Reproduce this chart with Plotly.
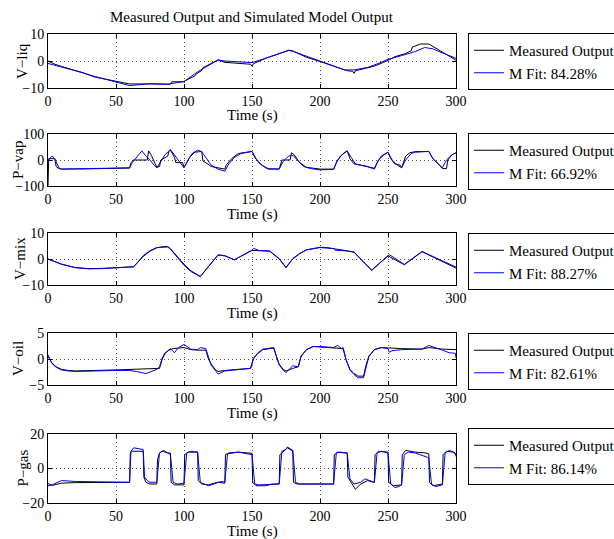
import plotly.graph_objects as go

W, H = 614, 539
FONT = "Liberation Serif"

# ---- V-liq ----
t_liq_meas = [0, 5, 10, 18, 19, 25, 33, 34, 40, 50, 58, 60, 75, 90, 91, 100, 101, 108, 109, 113, 114,
              120, 125, 130, 140, 149, 150, 151, 160, 170, 177, 180, 189, 190, 200, 210, 220, 224, 225,
              226, 235, 240, 250, 255, 262, 267, 268, 274, 280, 285, 291, 292, 298, 300]
v_liq_meas = [0, -1.2, -2, -3, -3.4, -4.2, -5.5, -5.9, -6.5, -7.6, -8.3, -8.5, -8.5, -8.6, -7.7, -7.7,
              -7.3, -5.5, -4.8, -3.5, -2.5, -0.8, 0.4, -0.5, -0.8, -1.2, -1.9, -1.0, 1.0, 2.7, 3.9, 3.7,
              1.8, 1.4, -0.2, -2.0, -3.6, -3.8, -4.6, -3.6, -2.4, -1.9, 0.2, 1.6, 2.6, 3.8, 5.2, 6.3,
              6.3, 4.8, 3.0, 2.6, 1.0, 0.3]
t_liq_model = [0, 10, 20, 35, 50, 60, 75, 88, 95, 100, 110, 120, 125, 130, 150, 160, 170, 177, 180,
               190, 200, 210, 218, 225, 235, 245, 250, 260, 270, 277, 283, 290, 300]
v_liq_model = [-0.9, -2.2, -3.6, -5.8, -7.8, -9.1, -8.4, -8.6, -8.0, -7.6, -4.0, -1.0, 0.4, 0.0, -0.6,
               1.0, 2.8, 4.0, 3.6, 1.8, -0.2, -2.0, -3.3, -3.3, -2.4, -0.5, 0.6, 2.0, 3.5, 5.0, 4.5,
               3.0, 1.0]

# ---- P-vap ----
t_vap_meas = [0, 0.5, 5, 6, 8, 10, 30, 60, 61, 63, 73, 74, 76, 80, 82, 83, 88, 89, 90, 93, 94, 99,
              100, 101, 104, 108, 113, 114, 116, 120, 125, 130, 131, 135, 140, 150, 152, 155, 160, 162,
              170, 172, 178, 179, 181, 185, 190, 200, 210, 212, 215, 219, 220, 222, 225, 230, 240, 242,
              245, 250, 252, 255, 259, 260, 261, 263, 266, 270, 280, 283, 287, 290, 293, 294, 297, 300]
v_vap_meas = [-100, 5, 5, -25, -33, -35, -34, -31, -10, 0, 0, 35, 18, -28, -25, 0, 15, 35, 38, 10,
              -10, -10, -28, -20, 10, 30, 33, -5, -10, -25, -30, -35, -20, 5, 25, 33, 10, -10, -30,
              -35, -35, 0, 0, 28, 20, -10, -28, -35, -35, -10, 15, 33, 35, 5, -15, -20, -32, -10, 15,
              30, 5, -15, -20, -30, -15, 15, 28, 32, 33, 5, -15, -33, -33, 0, 20, 28]
t_vap_model = [0, 1, 3, 5, 8, 10, 30, 60, 62, 65, 69, 72, 75, 78, 80, 83, 86, 90, 93, 96, 100, 103,
               106, 110, 113, 116, 120, 125, 130, 133, 137, 142, 150, 153, 157, 162, 170, 173, 177,
               180, 184, 188, 193, 200, 210, 213, 217, 220, 223, 226, 230, 235, 240, 243, 247, 250,
               253, 257, 260, 263, 267, 270, 280, 283, 287, 290, 293, 297, 300]
v_vap_model = [-10, 5, 15, 5, -30, -35, -33, -30, -10, 10, 35, 15, 0, -20, -30, -5, 20, 40, 18, -5,
               -30, 0, 25, 38, 32, 10, -20, -35, -43, -15, 10, 25, 33, 5, -20, -33, -35, -5, 15, 18,
               -5, -25, -33, -38, -36, 0, 25, 35, 10, -15, -20, -25, -35, 0, 20, 30, 0, -20, -30, 0,
               25, 30, 33, 5, -15, -30, 0, 20, 28]

# ---- V-mix ----
t_mix_meas = [0, 10, 20, 30, 40, 50, 60, 63, 70, 75, 80, 85, 88, 90, 95, 100, 105, 110, 112, 125,
              130, 137, 150, 155, 163, 170, 175, 180, 185, 190, 200, 205, 210, 215, 220, 225, 238,
              250, 262, 275, 300]
v_mix_meas = [0, -2, -3.3, -3.7, -3.6, -3.4, -3.2, -3, 1, 3, 4.3, 4.8, 4.8, 4, 1, -2, -4.5, -6.3,
              -6.7, 1.5, 1.2, -0.3, 3.3, 3.2, 3, 0, -3.2, 0, 2, 3.5, 4.5, 4.4, 4, 3.4, 3, 2.7, -4.3,
              1.2, -2.2, 2.8, -3.5]
t_mix_model = [0, 10, 20, 30, 40, 50, 60, 63, 70, 75, 80, 85, 88, 90, 95, 100, 105, 110, 112, 125,
               130, 137, 150, 151, 155, 163, 170, 175, 180, 185, 190, 200, 205, 210, 211, 215, 220,
               225, 238, 250, 251, 253, 262, 275, 300]
v_mix_model = [0, -2, -3.3, -3.8, -3.7, -3.4, -3.2, -3, 1.3, 3.2, 4.4, 4.7, 4.6, 3.8, 0.6, -2.4,
               -4.8, -6.4, -6.8, 1.6, 1.3, -0.3, 3.4, 4.1, 3.3, 3.1, 0.2, -3.4, 0.2, 2.1, 3.5, 4.4,
               4.3, 4.0, 3.4, 3.3, 3.1, 2.6, -4.4, 1.3, 1.6, 1.0, -2.1, 2.9, -3.1]

# ---- V-oil ----
t_oil_meas = [0, 3, 6, 10, 15, 20, 50, 82, 84, 86, 88, 92, 100, 105, 110, 116, 118, 120, 123, 125,
              130, 140, 149, 151, 154, 158, 165, 166, 168, 170, 173, 175, 180, 184, 186, 190, 195,
              200, 210, 217, 219, 222, 225, 228, 232, 234, 236, 240, 245, 250, 260, 275, 280, 290, 300]
v_oil_meas = [0.5, -0.8, -1.5, -2, -2.2, -2.3, -2.1, -1.8, 0, 1, 1.6, 2.0, 2.2, 1.8, 1.7, 1.7, 0,
              -1, -2, -2.4, -2.2, -2, -1.8, 0, 1, 1.8, 2.0, 2.1, 0.5, -1, -2, -2.3, -1.8, -1.5, 0.5,
              1.8, 2.4, 2.3, 2.1, 2.0, 0, -2, -2.8, -3.3, -3.3, -1, 0.5, 1.8, 2.2, 2.1, 2.0, 1.9, 2.2,
              1.9, 1.8]
t_oil_model = [0, 3, 6, 10, 15, 20, 50, 60, 65, 72, 80, 82, 84, 86, 88, 90, 93, 96, 100, 105, 110,
               112, 116, 118, 120, 123, 125, 130, 140, 149, 151, 154, 158, 165, 166, 168, 170, 173,
               175, 180, 184, 186, 190, 195, 200, 210, 213, 216, 217, 219, 222, 225, 228, 232, 234,
               236, 240, 245, 250, 251, 253, 260, 275, 280, 290, 295, 299.5, 300]
v_oil_model = [0.8, -0.9, -1.6, -2.1, -2.3, -2.4, -2.2, -2.2, -2.4, -2.8, -2.0, -1.5, 0.2, 1.2, 1.5,
               2.0, 1.2, 2.2, 2.8, 1.9, 1.8, 2.2, 2.0, 0.2, -1.2, -2.2, -2.9, -2.3, -2.0, -1.8, 0.1,
               1.1, 1.9, 2.1, 2.2, 0.4, -1.1, -2.2, -2.6, -1.3, -1.5, 0.4, 1.8, 2.4, 2.4, 2.2, 2.6,
               2.0, 2.2, 0, -2.1, -3.0, -3.6, -3.6, -1.2, 0.6, 1.8, 2.2, 2.0, 1.3, 1.6, 1.8, 1.9, 2.6,
               1.7, 1.2, 1.1, 0.2]

# ---- P-gas ----
t_gas_meas = [0, 3, 10, 20, 60, 60.5, 62, 70, 70.5, 72, 75, 80, 80.5, 82, 85, 88, 90, 90.5, 93,
              100, 100.5, 103, 110, 110.5, 113, 118, 122, 125, 130, 130.5, 133, 140, 150, 150.5, 153,
              160, 165, 170, 170.5, 173, 176, 178, 180, 180.5, 183, 185, 200, 210, 210.5, 213, 218,
              220, 220.5, 224, 226, 230, 235, 240, 240.5, 243, 250, 250.5, 254, 260, 260.5, 263, 270,
              278, 280, 280.5, 283, 290, 290.5, 293, 298, 300]
v_gas_meas = [-8.7, -9.8, -8.5, -8.2, -8, 9, 10, 10, -5, -8, -9, -9, 5, 9, 10.5, 9, 9, -8, -9.5,
              -9.5, 8, 9.5, 9.5, -7, -9, -9.5, -8.5, -8, -8.5, 8, 9, 9.5, 8.8, -8, -10, -10, -9,
              -9, 8, 10, 12, 11, 10, -8, -9, -9, -9, -9, 8, 9.5, 9, 9, -5, -10, -12, -9, -7, -8, 8,
              10, 9.5, -8, -10, -9.5, 8, 10.5, 9.5, 9, 8.5, -8, -10, -9, 8, 10, 9.5, 8]
t_gas_model = [0, 3, 10, 20, 60, 61, 63, 68, 70, 71, 73, 75, 80, 82, 84, 88, 90, 92, 95, 100, 102,
               105, 110, 112, 115, 118, 122, 125, 128, 130, 132, 135, 140, 150, 152, 155, 165, 170,
               172, 175, 176, 180, 182, 185, 200, 210, 212, 215, 220, 222, 225, 230, 233, 237, 240,
               242, 245, 250, 252, 255, 258, 260, 262, 265, 270, 279, 280, 282, 285, 290, 292, 295,
               299.5, 300]
v_gas_model = [-10, -9.5, -7, -7.5, -8, 10, 12, 11.5, 11, -5, -7, -8, -8, 9, 10, 9, 8, -8, -9, -8.5,
               9, 10, 9.5, -8, -9, -10, -9, -8, -7.5, -8, 8.5, 9, 9.5, 8, -9, -9.5, -9, -9, 10, 11,
               12.5, 10.5, -8, -9, -9, -9, 9, 9.5, 9, -6, -9, -8, -6, -7, -8, 9, 10, 9, -9, -11,
               -10.5, -9.5, 8, 9.5, 9, 6.5, 6, -9, -10.5, -9.5, 9, 10.5, 9, 7]

ylabels = ["V\u2212liq", "P\u2212vap", "V\u2212mix", "V\u2212oil", "P\u2212gas"]
yranges = [[-10, 10], [-100, 100], [-10, 10], [-5, 5], [-20, 20]]
fits = ["84.28%", "66.92%", "88.27%", "82.61%", "86.14%"]
x_ticks = [0, 50, 100, 150, 200, 250, 300]

series = [
    (t_liq_meas, v_liq_meas, t_liq_model, v_liq_model),
    (t_vap_meas, v_vap_meas, t_vap_model, v_vap_model),
    (t_mix_meas, v_mix_meas, t_mix_model, v_mix_model),
    (t_oil_meas, v_oil_meas, t_oil_model, v_oil_model),
    (t_gas_meas, v_gas_meas, t_gas_model, v_gas_model),
]

# pixel placement of each axes box (top, bottom), legend top, y-label x
ax_px = [(34, 88), (134, 186), (233, 285), (333, 385), (434, 503)]
leg_top = [33, 133, 233, 333, 428]
ylab_x = [22, 18, 20, 18, 22]
X0, X1 = 48, 456
LBL = dict(family=FONT, size=15, color="black")

fig = go.Figure()
layout = dict(
    width=W, height=H,
    margin=dict(l=0, r=0, t=0, b=0, autoexpand=False),
    paper_bgcolor="white", plot_bgcolor="white",
    font=dict(family=FONT, size=14, color="black"),
    showlegend=True,
)
annotations = []

for i, (tm, vm, ts, vs) in enumerate(series):
    n = i + 1
    sfx = "" if n == 1 else str(n)
    leg = "legend" if n == 1 else f"legend{n}"
    fig.add_trace(go.Scatter(x=tm, y=vm, mode="lines", name="Measured Output",
                             line=dict(color="black", width=1),
                             xaxis=f"x{sfx}", yaxis=f"y{sfx}", legend=leg))
    fig.add_trace(go.Scatter(x=ts, y=vs, mode="lines", name=f"M Fit: {fits[i]}",
                             line=dict(color="#0000ff", width=1),
                             xaxis=f"x{sfx}", yaxis=f"y{sfx}", legend=leg))
    top, bot = ax_px[i]
    common = dict(showline=True, linecolor="black", linewidth=1, mirror="allticks",
                  ticks="inside", ticklen=4, tickcolor="black", showgrid=True,
                  gridcolor="#555555", griddash="1px,3px", gridwidth=1, zeroline=False,
                  tickfont=dict(family=FONT, size=14, color="black"))
    layout[f"xaxis{sfx}"] = dict(domain=[X0 / W, X1 / W], range=[0, 300], tickvals=x_ticks,
                                 anchor=f"y{sfx}", **common)
    lo, hi = yranges[i]
    layout[f"yaxis{sfx}"] = dict(domain=[1 - bot / H, 1 - top / H], range=[lo, hi],
                                 tickvals=[lo, 0, hi], anchor=f"x{sfx}", **common)
    layout[leg] = dict(x=468 / W, y=1 - leg_top[i] / H, xanchor="left", yanchor="top",
                       bgcolor="white", bordercolor="black", borderwidth=1,
                       font=LBL, tracegroupgap=0, itemwidth=30)
    annotations.append(dict(text=ylabels[i], x=ylab_x[i] / W, y=1 - (top + bot) / 2 / H,
                            xref="paper", yref="paper", showarrow=False, textangle=-90,
                            xanchor="center", yanchor="middle", font=LBL))
    annotations.append(dict(text="Time (s)", x=(X0 + X1) / 2 / W, y=1 - (bot + 28) / H,
                            xref="paper", yref="paper", showarrow=False,
                            xanchor="center", yanchor="middle", font=LBL))

annotations.append(dict(text="Measured Output and Simulated Model Output", x=(X0 + X1) / 2 / W,
                        y=1 - 17 / H, xref="paper", yref="paper", showarrow=False,
                        xanchor="center", yanchor="middle", font=LBL))
layout["annotations"] = annotations
fig.update_layout(**layout)
fig.write_html("out.html")
